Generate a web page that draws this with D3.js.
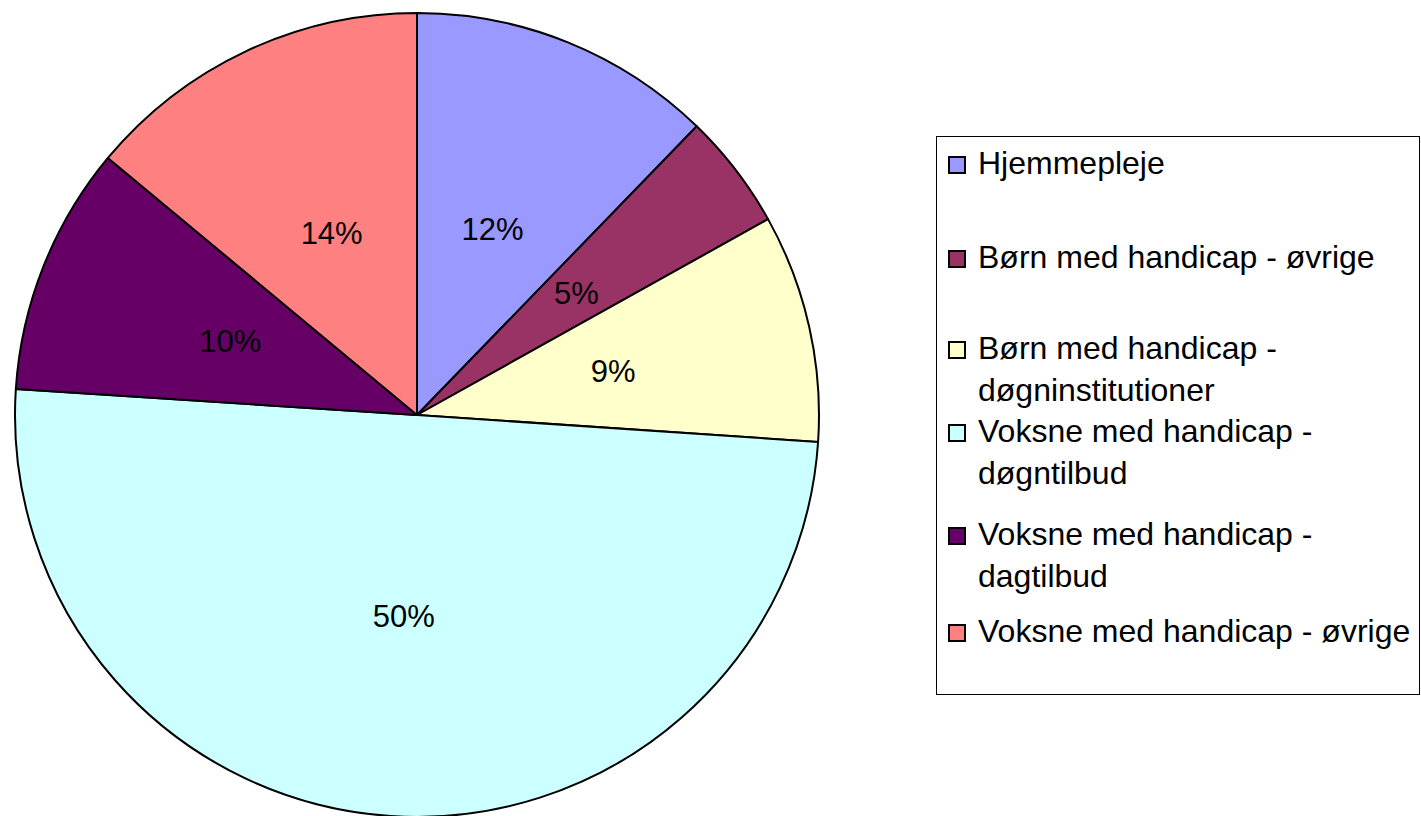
<!DOCTYPE html>
<html>
<head>
<meta charset="utf-8">
<script src="https://cdn.jsdelivr.net/npm/d3@7"></script>
<style>
  html, body { margin: 0; padding: 0; background: #fff; }
  svg { display: block; }
  text { font-family: "Liberation Sans", Arial, sans-serif; fill: #000; }
</style>
</head>
<body>
<svg id="chart" width="1421" height="816"></svg>
<script>
// Data
const categories = [
  "Hjemmepleje",
  "Børn med handicap - øvrige",
  "Børn med handicap - døgninstitutioner",
  "Voksne med handicap - døgntilbud",
  "Voksne med handicap - dagtilbud",
  "Voksne med handicap - øvrige"
];
const values = [12.25, 4.65, 9.17, 49.96, 10.01, 13.96];
const percentLabels = ["12%", "5%", "9%", "50%", "10%", "14%"];
const legendLines = [
  ["Hjemmepleje"],
  ["Børn med handicap - øvrige"],
  ["Børn med handicap -", "døgninstitutioner"],
  ["Voksne med handicap -", "døgntilbud"],
  ["Voksne med handicap -", "dagtilbud"],
  ["Voksne med handicap - øvrige"]
];
const colors = ["#9999FF", "#993366", "#FFFFCC", "#CCFFFF", "#660066", "#FF8080"];

// Layout
const cx = 417, cy = 415, R = 402;
const pctFontSize = 31;
const legendFontSize = 32;
const svg = d3.select("#chart");

const data = categories.map((c, i) => ({ name: c, value: values[i], label: percentLabels[i], color: colors[i] }));

const pie = d3.pie().value(d => d.value).sort(null);
const arc = d3.arc().innerRadius(0).outerRadius(R);
const arcs = pie(data);

const g = svg.append("g").attr("transform", `translate(${cx},${cy})`);
g.selectAll("path.slice")
  .data(arcs)
  .join("path")
  .attr("class", "slice")
  .attr("d", arc)
  .attr("fill", d => d.data.color)
  .attr("stroke", "#000")
  .attr("stroke-width", 2)
  .attr("stroke-linejoin", "round");

g.selectAll("text.pct")
  .data(arcs)
  .join("text")
  .attr("class", "pct")
  .attr("transform", d => `translate(${arc.centroid(d)})`)
  .attr("text-anchor", "middle")
  .attr("dy", "0.36em")
  .style("font-size", pctFontSize + "px")
  .text(d => d.data.label);

// Legend
const legendBox = { x: 936.5, y: 136.5, w: 483, h: 558 };
svg.append("rect")
  .attr("x", legendBox.x).attr("y", legendBox.y)
  .attr("width", legendBox.w).attr("height", legendBox.h)
  .attr("fill", "#fff").attr("stroke", "#000").attr("stroke-width", 1);

const itemBaselines = [174, 268, 359, 442, 545, 642];
const lineGap = 42;
const lg = svg.append("g");
data.forEach((d, i) => {
  const by = itemBaselines[i];
  lg.append("rect")
    .attr("x", 949).attr("y", by - 17)
    .attr("width", 16).attr("height", 16)
    .attr("fill", d.color).attr("stroke", "#000").attr("stroke-width", 2);
  legendLines[i].forEach((line, j) => {
    lg.append("text")
      .attr("x", 978).attr("y", by + j * lineGap)
      .style("font-size", legendFontSize + "px")
      .text(line);
  });
});
</script>
</body>
</html>
